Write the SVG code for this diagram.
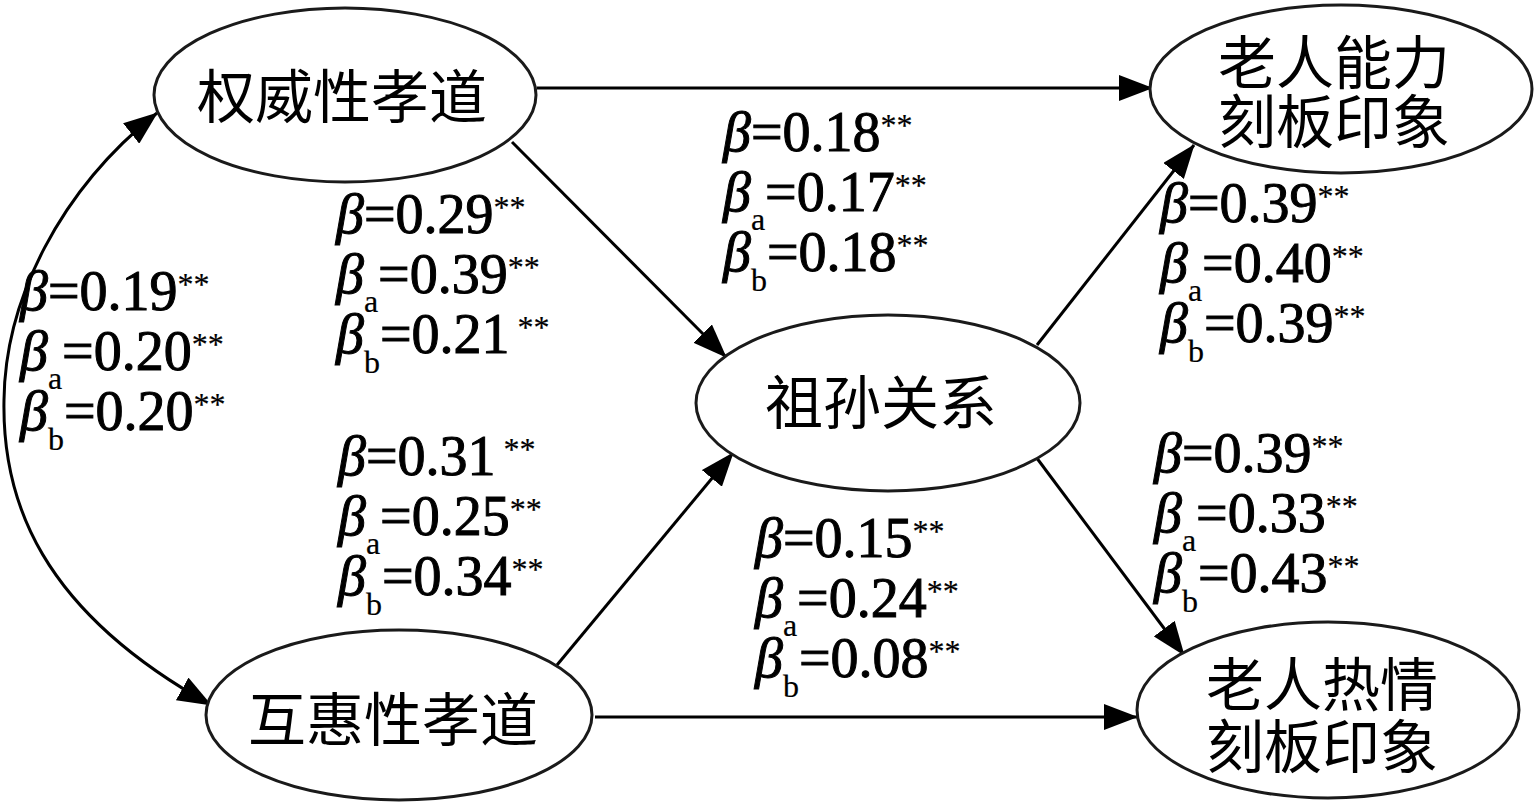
<svg xmlns="http://www.w3.org/2000/svg" width="1535" height="808" viewBox="0 0 1535 808">
<style>
.node ellipse{fill:#fff;stroke:#1a1a1a;stroke-width:3}
.node text{font-family:"Noto Sans CJK SC","Noto Sans CJK TC",sans-serif;font-size:58px;fill:#000;text-anchor:middle}
.edge{fill:none;stroke:#000;stroke-width:3}
.lbl{font-family:"Liberation Serif","Times New Roman",serif;font-size:56px;fill:#000;stroke:#000;stroke-width:1}
.it{font-style:italic}
.s{font-size:32px;stroke-width:0.2}
</style>
<defs>
<marker id="arr" markerUnits="userSpaceOnUse" markerWidth="34" markerHeight="26" refX="33" refY="13" orient="auto-start-reverse">
<path d="M0,0 L34,13 L0,26 Z" fill="#000"/>
</marker>
</defs>
<rect width="1535" height="808" fill="#fff"/>
<g id="connectors">
<path class="edge" d="M537,88 L1152,88" marker-end="url(#arr)"/>
<path class="edge" d="M595,717 L1137,717" marker-end="url(#arr)"/>
<path class="edge" d="M512,142 L726,357" marker-end="url(#arr)"/>
<path class="edge" d="M557,665 L733,453" marker-end="url(#arr)"/>
<path class="edge" d="M1037,345 L1194,145" marker-end="url(#arr)"/>
<path class="edge" d="M1036,457 L1184,655" marker-end="url(#arr)"/>
<path class="edge" d="M157,113 C60,190 5,300 4,400 C2,500 40,610 211,705" marker-start="url(#arr)" marker-end="url(#arr)"/>
</g>
<g id="n1" class="node">
<ellipse cx="345" cy="95" rx="191" ry="87"/>
<text x="342" y="118">权威性孝道</text>
</g>
<g id="n2" class="node">
<ellipse cx="399" cy="715" rx="193" ry="85"/>
<text x="393" y="741">互惠性孝道</text>
</g>
<g id="n3" class="node">
<ellipse cx="888" cy="403" rx="192" ry="88"/>
<text x="881" y="424">祖孙关系</text>
</g>
<g id="n4" class="node">
<ellipse cx="1341" cy="89" rx="191" ry="84"/>
<text x="1334" y="84">老人能力<tspan x="1334" dy="59">刻板印象</tspan></text>
</g>
<g id="n5" class="node">
<ellipse cx="1328" cy="710" rx="191" ry="88"/>
<text x="1322" y="706">老人热情<tspan x="1322" dy="62">刻板印象</tspan></text>
</g>
<g id="labels">
<g id="l1">
<text class="lbl" x="20" y="310"><tspan class="it">β</tspan>=0.19<tspan class="s" dy="-15">**</tspan></text>
<text class="lbl" x="20" y="370"><tspan class="it">β</tspan><tspan class="s" dy="19">a</tspan><tspan dy="-19">=0.20</tspan><tspan class="s" dy="-15">**</tspan></text>
<text class="lbl" x="20" y="430"><tspan class="it">β</tspan><tspan class="s" dy="20">b</tspan><tspan dy="-20">=0.20</tspan><tspan class="s" dy="-15">**</tspan></text>
</g>
<g id="l2">
<text class="lbl" x="336" y="233"><tspan class="it">β</tspan>=0.29<tspan class="s" dy="-15">**</tspan></text>
<text class="lbl" x="336" y="293"><tspan class="it">β</tspan><tspan class="s" dy="19">a</tspan><tspan dy="-19">=0.39</tspan><tspan class="s" dy="-15">**</tspan></text>
<text class="lbl" x="336" y="353"><tspan class="it">β</tspan><tspan class="s" dy="20">b</tspan><tspan dy="-20">=0.21</tspan><tspan class="s" dy="-15"> **</tspan></text>
</g>
<g id="l3">
<text class="lbl" x="338" y="475"><tspan class="it">β</tspan>=0.31<tspan class="s" dy="-15"> **</tspan></text>
<text class="lbl" x="338" y="535"><tspan class="it">β</tspan><tspan class="s" dy="19">a</tspan><tspan dy="-19">=0.25</tspan><tspan class="s" dy="-15">**</tspan></text>
<text class="lbl" x="338" y="595"><tspan class="it">β</tspan><tspan class="s" dy="20">b</tspan><tspan dy="-20">=0.34</tspan><tspan class="s" dy="-15">**</tspan></text>
</g>
<g id="l4">
<text class="lbl" x="723" y="151"><tspan class="it">β</tspan>=0.18<tspan class="s" dy="-15">**</tspan></text>
<text class="lbl" x="723" y="211"><tspan class="it">β</tspan><tspan class="s" dy="19">a</tspan><tspan dy="-19">=0.17</tspan><tspan class="s" dy="-15">**</tspan></text>
<text class="lbl" x="723" y="271"><tspan class="it">β</tspan><tspan class="s" dy="20">b</tspan><tspan dy="-20">=0.18</tspan><tspan class="s" dy="-15">**</tspan></text>
</g>
<g id="l5">
<text class="lbl" x="755" y="557"><tspan class="it">β</tspan>=0.15<tspan class="s" dy="-15">**</tspan></text>
<text class="lbl" x="755" y="617"><tspan class="it">β</tspan><tspan class="s" dy="19">a</tspan><tspan dy="-19">=0.24</tspan><tspan class="s" dy="-15">**</tspan></text>
<text class="lbl" x="755" y="677"><tspan class="it">β</tspan><tspan class="s" dy="20">b</tspan><tspan dy="-20">=0.08</tspan><tspan class="s" dy="-15">**</tspan></text>
</g>
<g id="l6">
<text class="lbl" x="1160" y="222"><tspan class="it">β</tspan>=0.39<tspan class="s" dy="-15">**</tspan></text>
<text class="lbl" x="1160" y="282"><tspan class="it">β</tspan><tspan class="s" dy="19">a</tspan><tspan dy="-19">=0.40</tspan><tspan class="s" dy="-15">**</tspan></text>
<text class="lbl" x="1160" y="342"><tspan class="it">β</tspan><tspan class="s" dy="20">b</tspan><tspan dy="-20">=0.39</tspan><tspan class="s" dy="-15">**</tspan></text>
</g>
<g id="l7">
<text class="lbl" x="1154" y="472"><tspan class="it">β</tspan>=0.39<tspan class="s" dy="-15">**</tspan></text>
<text class="lbl" x="1154" y="532"><tspan class="it">β</tspan><tspan class="s" dy="19">a</tspan><tspan dy="-19">=0.33</tspan><tspan class="s" dy="-15">**</tspan></text>
<text class="lbl" x="1154" y="592"><tspan class="it">β</tspan><tspan class="s" dy="20">b</tspan><tspan dy="-20">=0.43</tspan><tspan class="s" dy="-15">**</tspan></text>
</g>
</g>
</svg>
